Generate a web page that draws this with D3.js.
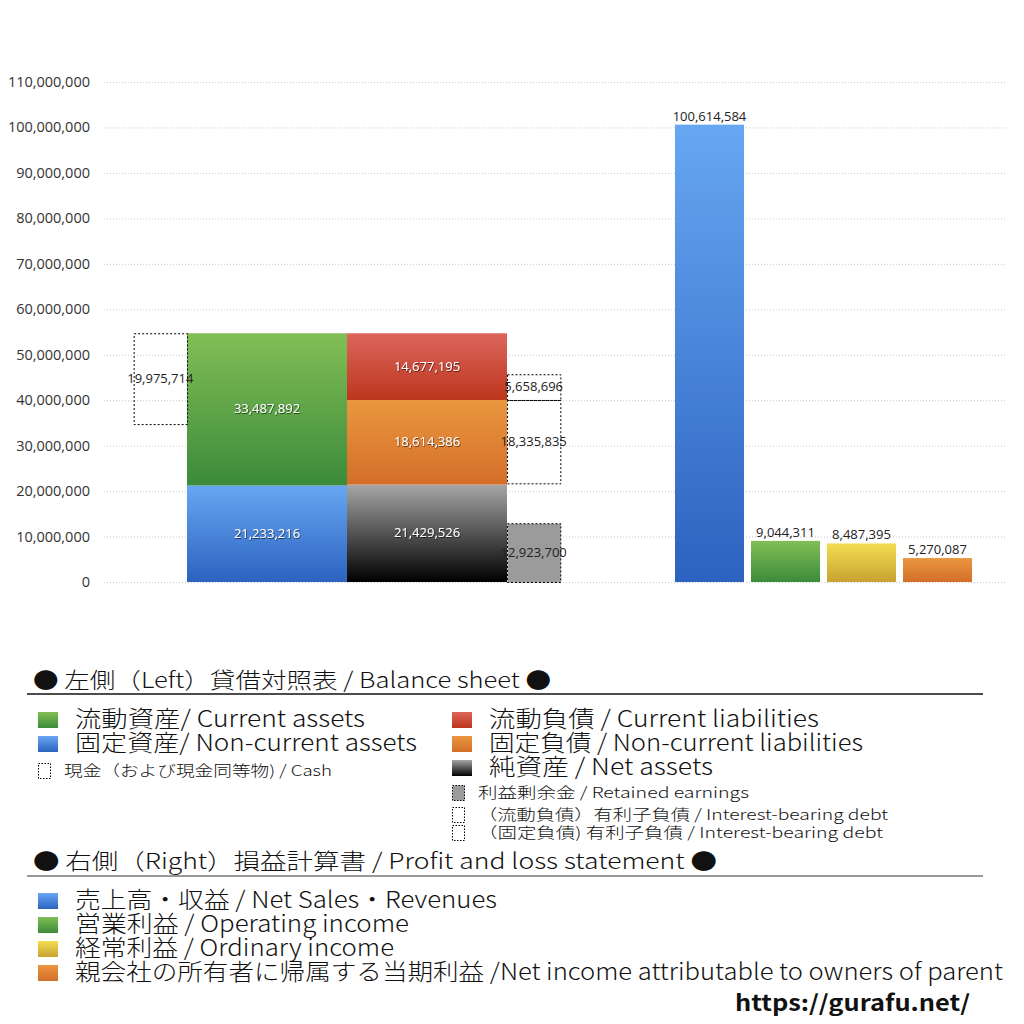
<!DOCTYPE html>
<html>
<head>
<meta charset="utf-8">
<script src="https://cdn.jsdelivr.net/npm/d3@7"></script>
<style>
  body { margin: 0; background: #fff; }
  svg { display: block; font-family: "Noto Sans CJK JP", "Noto Sans", sans-serif; }
  .tick-label { font-family: "Open Sans", "Noto Sans", sans-serif; font-size: 14.5px; fill: #333; }
  .val { font-family: "Open Sans", "Noto Sans", sans-serif; font-size: 13px; }
  .lg-text { font-weight: 300; fill: #111; }
</style>
</head>
<body>
<div id="chart"></div>
<script>
// balance sheet (left side)
const assetNames = ["固定資産", "流動資産"];
const assetValues = [21233216, 33487892];
const liabNames = ["純資産", "固定負債", "流動負債"];
const liabValues = [21429526, 18614386, 14677195];
const cashValue = 19975714;
const retainedValue = 12923700;
const debtCurrentValue = 5658696;
const debtNoncurrentValue = 18335835;

// profit and loss (right side)
const plNames = ["売上高・収益", "営業利益", "経常利益", "親会社株主に帰属する当期純利益"];
const plValues = [100614584, 9044311, 8487395, 5270087];

const yTickValues = [0, 10e6, 20e6, 30e6, 40e6, 50e6, 60e6, 70e6, 80e6, 90e6, 100e6, 110e6];

const grads = {
  green:  ["#82be56", "#3b8b3a"],
  blue:   ["#67a7f2", "#2d62c0"],
  red:    ["#dc665c", "#bd351d"],
  orange: ["#e9973f", "#d46e29"],
  black:  ["#a6a6a6", "#000000"],
  yellow: ["#f2de52", "#c9a231"]
};
const assetColors = ["blue", "green"];
const liabColors = ["black", "orange", "red"];
const plColors = ["blue", "green", "yellow", "orange"];

const W = 1024, H = 1024;
const svg = d3.select("#chart").append("svg")
    .attr("width", W).attr("height", H);

const defs = svg.append("defs");
Object.entries(grads).forEach(([k, c]) => {
  const g = defs.append("linearGradient").attr("id", "g-" + k)
      .attr("x1", 0).attr("y1", 0).attr("x2", 0).attr("y2", 1);
  g.append("stop").attr("offset", "0%").attr("stop-color", c[0]);
  g.append("stop").attr("offset", "100%").attr("stop-color", c[1]);
});
const sh = defs.append("filter").attr("id", "shadow")
    .attr("x", "-20%").attr("y", "-40%").attr("width", "140%").attr("height", "180%");
sh.append("feDropShadow").attr("dx", 0.6).attr("dy", 0.8).attr("stdDeviation", 0.6)
    .attr("flood-color", "#000").attr("flood-opacity", 0.7);

const y = d3.scaleLinear().domain([0, 110e6]).range([582, 82]);

// grid + y labels
svg.append("g").selectAll("line").data(yTickValues).enter().append("line")
    .attr("x1", 104).attr("x2", 1006)
    .attr("y1", d => y(d) + 0.5).attr("y2", d => y(d) + 0.5)
    .attr("stroke", "#c8c8c8").attr("stroke-width", 1)
    .attr("stroke-dasharray", "1,2");

svg.append("g").selectAll("text").data(yTickValues).enter().append("text")
    .attr("class", "tick-label")
    .attr("x", 90).attr("y", d => y(d) + 5)
    .attr("text-anchor", "end")
    .text(d => d3.format(",")(d));

// balance sheet columns
const xb = d3.scaleBand().domain(["assets", "liab"]).range([187, 507]).padding(0);
const side = xb.bandwidth() / 3;

function stackOf(vals) {
  let acc = 0;
  return vals.map(v => { const s = { y0: acc, y1: acc + v, v: v }; acc += v; return s; });
}
const assetStack = stackOf(assetValues).map((d, i) => Object.assign(d, { col: "assets", c: assetColors[i] }));
const liabStack = stackOf(liabValues).map((d, i) => Object.assign(d, { col: "liab", c: liabColors[i] }));
const bsBlocks = assetStack.concat(liabStack);

svg.append("g").selectAll("rect").data(bsBlocks).enter().append("rect")
    .attr("x", d => xb(d.col))
    .attr("width", xb.bandwidth())
    .attr("y", d => y(d.y1))
    .attr("height", d => y(d.y0) - y(d.y1))
    .attr("fill", d => "url(#g-" + d.c + ")");

svg.append("g").selectAll("text").data(bsBlocks).enter().append("text")
    .attr("class", "val")
    .attr("x", d => xb(d.col) + xb.bandwidth() / 2)
    .attr("y", d => (y(d.y0) + y(d.y1)) / 2 + 4)
    .attr("text-anchor", "middle")
    .attr("fill", "#fff")
    .attr("filter", "url(#shadow)")
    .text(d => d3.format(",")(d.v));

// dotted side boxes
const totalAssets = d3.sum(assetValues);
const sideBoxes = [
  { x: xb("assets") - side, y0: totalAssets - cashValue, y1: totalAssets, v: cashValue, fill: "none" },
  { x: xb("liab") + xb.bandwidth(), y0: 0, y1: retainedValue, v: retainedValue, fill: "#9b9b9b" },
  { x: xb("liab") + xb.bandwidth(), y0: liabStack[1].y1 - debtNoncurrentValue, y1: liabStack[1].y1, v: debtNoncurrentValue, fill: "none" },
  { x: xb("liab") + xb.bandwidth(), y0: liabStack[2].y0, y1: liabStack[2].y0 + debtCurrentValue, v: debtCurrentValue, fill: "none" }
];
svg.append("g").selectAll("rect").data(sideBoxes).enter().append("rect")
    .attr("x", d => d.x + 0.5)
    .attr("width", side)
    .attr("y", d => y(d.y1) + 0.5)
    .attr("height", d => y(d.y0) - y(d.y1))
    .attr("fill", d => d.fill)
    .attr("stroke", "#000").attr("stroke-width", 1)
    .attr("stroke-dasharray", "2,2");

svg.append("g").selectAll("text").data(sideBoxes).enter().append("text")
    .attr("class", "val")
    .attr("x", d => d.x + side / 2)
    .attr("y", d => (y(d.y0) + y(d.y1)) / 2 + 4)
    .attr("text-anchor", "middle")
    .attr("fill", "#222")
    .text(d => d3.format(",")(d.v));

// P&L bars
const xp = d3.scaleBand().domain(plNames).range([671.5, 975.5])
    .paddingInner(0.092).paddingOuter(0.046);

svg.append("g").selectAll("rect").data(plValues).enter().append("rect")
    .attr("x", (d, i) => xp(plNames[i]))
    .attr("width", xp.bandwidth())
    .attr("y", d => y(d))
    .attr("height", d => y(0) - y(d))
    .attr("fill", (d, i) => "url(#g-" + plColors[i] + ")");

svg.append("g").selectAll("text").data(plValues).enter().append("text")
    .attr("class", "val")
    .attr("x", (d, i) => xp(plNames[i]) + xp.bandwidth() / 2)
    .attr("y", d => y(d) - 4)
    .attr("text-anchor", "middle")
    .attr("fill", "#222")
    .text(d => d3.format(",")(d));

// legend
const lg = svg.append("g");

function heading(txt, baseY, lineY, len, lineColor) {
  lg.append("text").attr("class", "lg-text").attr("x", 33).attr("y", baseY)
      .attr("font-size", 22)
      .attr("textLength", len).attr("lengthAdjust", "spacingAndGlyphs")
      .text(txt);
  lg.append("line").attr("x1", 27).attr("x2", 983).attr("y1", lineY).attr("y2", lineY)
      .attr("stroke", lineColor).attr("stroke-width", 1.6);
}
function bigItem(x, baseY, color, txt, len) {
  lg.append("rect").attr("x", x).attr("y", baseY - 15).attr("width", 20).attr("height", 16)
      .attr("fill", "url(#g-" + color + ")");
  lg.append("text").attr("class", "lg-text").attr("x", x + 37).attr("y", baseY)
      .attr("font-size", 23)
      .attr("textLength", len).attr("lengthAdjust", "spacingAndGlyphs")
      .text(txt);
}
function smallItem(x, baseY, fill, txt, len) {
  lg.append("rect").attr("x", x + 0.5).attr("y", baseY - 12.5).attr("width", 12).attr("height", 15)
      .attr("fill", fill).attr("stroke", "#000").attr("stroke-width", 1)
      .attr("stroke-dasharray", "1.5,1.5");
  lg.append("text").attr("class", "lg-text").attr("x", x + 26).attr("y", baseY)
      .attr("font-size", 15)
      .attr("textLength", len).attr("lengthAdjust", "spacingAndGlyphs")
      .text(txt);
}

heading("● 左側（Left）貸借対照表 / Balance sheet ●", 688, 694, 518, "#111");
bigItem(38, 727, "green", "流動資産/ Current assets", 290);
bigItem(38, 751, "blue", "固定資産/ Non-current assets", 342);
smallItem(38, 776, "none", "現金（および現金同等物) / Cash", 268);
bigItem(452, 727, "red", "流動負債 /  Current liabilities", 330);
bigItem(452, 751, "orange", "固定負債 / Non-current liabilities", 374);
bigItem(452, 775, "black", "純資産 / Net assets", 224);
smallItem(452, 798, "#9b9b9b", "利益剰余金 / Retained earnings", 271);
smallItem(452, 820, "none", "（流動負債）有利子負債 / Interest-bearing debt", 410);
smallItem(452, 838, "none", "（固定負債) 有利子負債 / Interest-bearing debt", 405);

heading("● 右側（Right）損益計算書 / Profit and loss statement ●", 869, 876, 684, "#777");
bigItem(38, 908, "blue", "売上高・収益 / Net Sales・Revenues", 422);
bigItem(38, 932, "green", "営業利益 / Operating income", 334);
bigItem(38, 956, "yellow", "経常利益 / Ordinary income", 319);
bigItem(38, 980, "orange", "親会社の所有者に帰属する当期利益 /Net income attributable to owners of parent", 928);

lg.append("text").attr("x", 735).attr("y", 1011)
    .attr("font-size", 22).attr("font-weight", "bold").attr("fill", "#111")
    .attr("textLength", 235).attr("lengthAdjust", "spacingAndGlyphs")
    .text("https://gurafu.net/");
</script>
</body>
</html>
